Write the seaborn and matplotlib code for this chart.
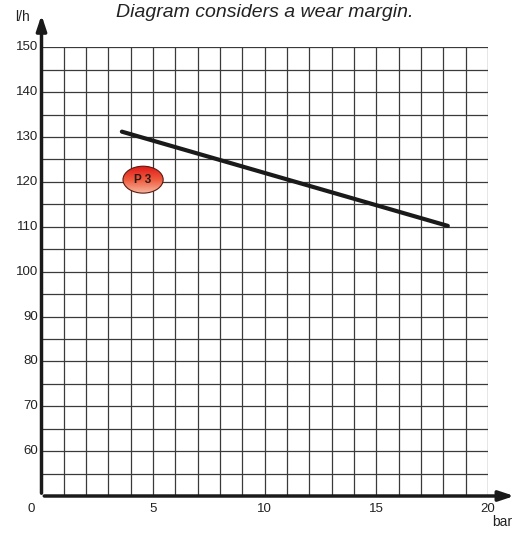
import numpy as np
import seaborn as sns
import matplotlib.pyplot as plt
from matplotlib.patches import Ellipse
from matplotlib.colors import LinearSegmentedColormap

# Data
pressure_bar = [3.6, 18.2]
flow_lh = [131.2, 110.2]
x_ticks = [5, 10, 15, 20]
y_ticks = [60, 70, 80, 90, 100, 110, 120, 130, 140, 150]
label_pos = (4.55, 120.5)
label_text = "P 3"

sns.set_style("white")
plt.rcParams['font.family'] = ['Liberation Sans', 'DejaVu Sans']

fig = plt.figure(figsize=(5.26, 5.33), dpi=100)
ax = fig.add_axes([41.5 / 526, 37 / 533, 446.5 / 526, 448.7 / 533])
ax.set_xlim(0, 20)
ax.set_ylim(50, 150)

# grid
for xv in range(1, 21):
    ax.plot([xv, xv], [50, 150], color='#3a3a3a', lw=0.9, zorder=1)
for yv in range(55, 151, 5):
    ax.plot([0, 20], [yv, yv], color='#3a3a3a', lw=0.9, zorder=1)

# axes with arrows
ax.annotate('', xy=(21.3, 50), xytext=(0, 50), annotation_clip=False,
            arrowprops=dict(arrowstyle='-|>,head_length=0.9,head_width=0.3', color='#1a1a1a', lw=2.5))
ax.annotate('', xy=(0, 157.8), xytext=(0, 50), annotation_clip=False,
            arrowprops=dict(arrowstyle='-|>,head_length=0.9,head_width=0.3', color='#1a1a1a', lw=2.5))

# curve
sns.lineplot(x=pressure_bar, y=flow_lh, ax=ax, color='#1a1a1a', lw=3.0, zorder=5)

# P3 badge with gradient
w, h = 1.8, 6.0
cx, cy = label_pos
ell = Ellipse((cx, cy), w, h, facecolor='none', edgecolor='#5a1a10', lw=0.8, zorder=7)
ax.add_patch(ell)
cmap = LinearSegmentedColormap.from_list('p3', ['#f6b49c', '#ef5a3c', '#e01a1a'])
grad = np.linspace(0, 1, 64).reshape(-1, 1)
im = ax.imshow(grad, extent=[cx - w / 2, cx + w / 2, cy - h / 2, cy + h / 2],
               origin='lower', cmap=cmap, aspect='auto', zorder=6)
im.set_clip_path(ell)
ax.text(cx, cy, label_text, ha='center', va='center', fontsize=8.5,
        fontweight='bold', color='#2a1a1a', zorder=8)

# ticks
ax.set_xticks([])
ax.set_yticks([])
for xv in x_ticks:
    ax.text(xv, 48.4, str(xv), ha='center', va='top', fontsize=9.5, color='#222222')
for yv in y_ticks:
    ax.text(-0.15, yv, str(yv), ha='right', va='center', fontsize=9.5, color='#222222')
ax.text(-0.3, 48.4, '0', ha='right', va='top', fontsize=9.5, color='#222222')
ax.text(-0.83, 156.75, 'l/h', ha='center', va='center', fontsize=10, color='#222222')
ax.text(20.65, 44.2, 'bar', ha='center', va='center', fontsize=10, color='#222222')

for s in ax.spines.values():
    s.set_visible(False)

fig.text(265 / 526, 1 - 17 / 533, 'Diagram considers a wear margin.', ha='center',
         va='baseline', fontsize=14, style='italic', color='#222222')

fig.savefig('out.png', dpi=100)
